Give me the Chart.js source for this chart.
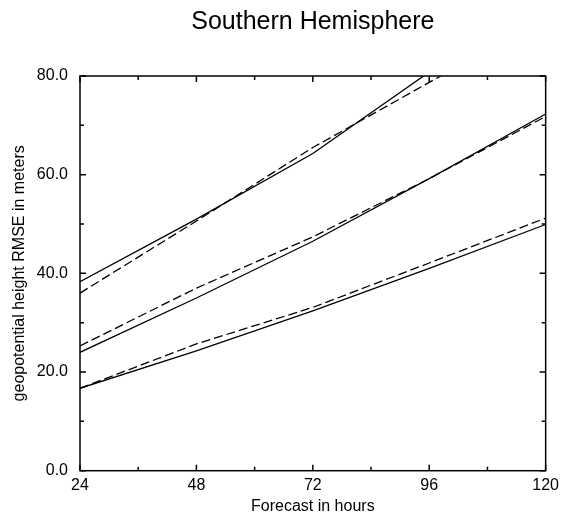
<!DOCTYPE html>
<html>
<head>
<meta charset="utf-8">
<title>Southern Hemisphere</title>
<script src="https://cdn.jsdelivr.net/npm/chart.js@4.4.1/dist/chart.umd.min.js"></script>
<style>
  body { margin: 0; background: #fff; }
  canvas { display: block; }
</style>
</head>
<body>
<canvas id="rmse" width="564" height="515"></canvas>
<script>
// forecast hours and tick positions
var hours = [24, 48, 72, 96, 120];
var xMajor = [24, 48, 72, 96, 120];
var xMinor = [36, 60, 84, 108];
var yMajor = [0, 20, 40, 60, 80];
var yMinor = [10, 30, 50, 70];

// RMSE values (upper pair runs off the top of the frame)
var upperSolid   = [38.3, 51.0, 64.3, 80.8, 97.0];
var upperDashed  = [36.0, 50.6, 65.5, 78.7, 92.0];
var middleSolid  = [24.0, 35.0, 46.5, 59.2, 72.3];
var middleDashed = [25.3, 37.0, 47.4, 59.2, 71.8];
var lowerSolid   = [16.7, 24.3, 32.4, 41.0, 49.9];
var lowerDashed  = [16.7, 25.7, 33.1, 42.1, 51.2];

Chart.defaults.font.family = "'Liberation Sans', Arial, sans-serif";
Chart.defaults.color = '#000';

function series(vals, dashed) {
    return {
        data: hours.map(function (h, i) { return { x: h, y: vals[i] }; }),
        borderColor: '#000',
        borderWidth: 1.3,
        borderDash: dashed ? [9, 4] : [],
        pointRadius: 0,
        tension: 0,
        fill: false
    };
}

// box round the plot with inward ticks on all four sides
var frame = {
    id: 'frame',
    afterDraw: function (chart) {
        var ctx = chart.ctx, a = chart.chartArea;
        var x = chart.scales.x, y = chart.scales.y;
        ctx.save();
        ctx.strokeStyle = '#000';
        ctx.lineWidth = 1.5;
        ctx.strokeRect(a.left, a.top, a.right - a.left, a.bottom - a.top);
        ctx.beginPath();
        function xt(vals, len) {
            vals.forEach(function (v) {
                var px = x.getPixelForValue(v);
                ctx.moveTo(px, a.bottom); ctx.lineTo(px, a.bottom - len);
                ctx.moveTo(px, a.top); ctx.lineTo(px, a.top + len);
            });
        }
        function yt(vals, len) {
            vals.forEach(function (v) {
                var py = y.getPixelForValue(v);
                ctx.moveTo(a.left, py); ctx.lineTo(a.left + len, py);
                ctx.moveTo(a.right, py); ctx.lineTo(a.right - len, py);
            });
        }
        xt(xMajor, 6); xt(xMinor, 4);
        yt(yMajor, 6); yt(yMinor, 4);
        ctx.stroke();
        ctx.restore();
    }
};

var ctx = document.getElementById('rmse').getContext('2d');
var chart = new Chart(ctx, {
    type: 'line',
    data: {
        datasets: [
            series(upperSolid, false),
            series(upperDashed, true),
            series(middleSolid, false),
            series(middleDashed, true),
            series(lowerSolid, false),
            series(lowerDashed, true)
        ]
    },
    options: {
        responsive: false,
        animation: false,
        layout: { padding: { left: 0, right: 15, top: 0, bottom: 0 } },
        plugins: {
            legend: { display: false },
            tooltip: { enabled: false },
            title: {
                display: true,
                fullSize: false, // centre over the plot, not the canvas
                text: 'Southern Hemisphere',
                font: { size: 25, weight: 'normal' },
                padding: { top: 7, bottom: 39 }
            }
        },
        scales: {
            x: {
                type: 'linear',
                min: 24,
                max: 120,
                border: { display: false },
                grid: { display: false, drawTicks: false },
                afterBuildTicks: function (s) { s.ticks = xMajor.map(function (v) { return { value: v }; }); },
                afterFit: function (s) { s.height = 44.3; },
                ticks: { font: { size: 16 }, padding: 5, maxRotation: 0 },
                title: { display: true, text: 'Forecast in hours', font: { size: 16 }, padding: { top: 0, bottom: -1 } }
            },
            y: {
                min: 0,
                max: 80,
                border: { display: false },
                grid: { display: false, drawTicks: false },
                afterBuildTicks: function (s) { s.ticks = yMajor.map(function (v) { return { value: v }; }); },
                afterFit: function (s) { s.width = 80; },
                ticks: {
                    font: { size: 16 },
                    padding: 12,
                    callback: function (v) { return v.toFixed(1); }
                },
                title: { display: true, text: 'geopotential height RMSE in meters', font: { size: 16 }, padding: { top: 10, bottom: 0 } }
            }
        }
    },
    plugins: [frame]
});
</script>
</body>
</html>
